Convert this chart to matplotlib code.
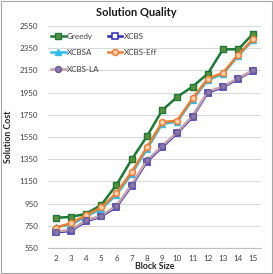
import matplotlib
matplotlib.use("Agg")
import matplotlib.pyplot as plt
from matplotlib.patches import Rectangle

plt.rcParams['font.family'] = ['Lato', 'DejaVu Sans']

block_sizes = [2, 3, 4, 5, 6, 7, 8, 9, 10, 11, 12, 13, 14, 15]
greedy   = [822, 830, 858, 938, 1118, 1348, 1555, 1790, 1912, 2004, 2120, 2340, 2340, 2482]
xcbs     = [690, 705, 790, 835, 920, 1110, 1328, 1458, 1585, 1730, 1950, 1998, 2075, 2148]
xcbsa    = [742, 758, 835, 902, 1030, 1218, 1440, 1668, 1688, 1885, 2062, 2118, 2280, 2428]
xcbs_eff = [732, 774, 846, 915, 1046, 1235, 1456, 1683, 1698, 1898, 2075, 2128, 2290, 2436]
xcbs_la  = [698, 713, 798, 842, 930, 1121, 1339, 1468, 1593, 1740, 1958, 2005, 2081, 2152]
yticks = [550, 750, 950, 1150, 1350, 1550, 1750, 1950, 2150, 2350, 2550]

fig = plt.figure(figsize=(2.73, 2.74), dpi=100)
ax = fig.add_axes([48/273, 1-248/274, 213/273, 222/274])

fig.patches.append(Rectangle((0.002, 0.002), 0.996, 0.996, transform=fig.transFigure,
                             fill=False, edgecolor="#A6A6A6", linewidth=0.8))

lw = 1.8
h_greedy, = ax.plot(block_sizes, greedy, color="#1C7A36", lw=lw, marker="s", ms=4.2,
        mfc="#5A8F3C", mec="#1C7A36", mew=1.0, label="Greedy", zorder=3)
h_xcbs, = ax.plot(block_sizes, xcbs, color="#2A2AC0", lw=lw, marker="s", ms=4,
        mfc="white", mec="#2A2AC0", mew=1.1, label="XCBS", zorder=3)
h_xcbsa, = ax.plot(block_sizes, xcbsa, color="#2EBDEB", lw=lw, marker="^", ms=4,
        mfc="#2EBDEB", mec="#2EBDEB", label="XCBSA", zorder=3)
h_eff, = ax.plot(block_sizes, xcbs_eff, color="#ED7D31", lw=lw, marker="o", ms=4.3,
        mfc="#FBD2B0", mec="#ED7D31", mew=1.1, label="XCBS-Eff", zorder=4)
h_la, = ax.plot(block_sizes, xcbs_la, color="#C8A0A8", lw=lw, marker="o", ms=4.3,
        mfc="#8A78AE", mec="#6A5A96", mew=1.0, label="XCBS-LA", zorder=5)

ax.set_xlim(1.5, 15.5)
ax.set_ylim(550, 2550)
ax.set_xticks(block_sizes)
ax.set_yticks(yticks)
ax.tick_params(axis="both", length=0, labelsize=5.8, colors="#404040")
ax.tick_params(axis="y", pad=7)
ax.tick_params(axis="x", pad=5)
ax.grid(axis="y", color="#D9D9D9", linewidth=0.8)
ax.set_axisbelow(True)
for s in ["top", "right", "left"]:
    ax.spines[s].set_visible(False)
ax.spines["bottom"].set_color("#BFBFBF")

fig.text(136/273, 1-12/274, "Solution Quality", fontsize=8, fontweight="bold",
         color="#1a1a1a", ha="center", va="center")
ax.set_xlabel("Block Size", fontsize=6.3, fontweight="bold", labelpad=0, color="#262626")
ax.set_ylabel("Solution Cost", fontsize=6.3, fontweight="bold", labelpad=5, color="#262626")

handles = [h_greedy, h_xcbsa, h_la, h_xcbs, h_eff]
leg = ax.legend(handles=handles, labels=[h.get_label() for h in handles],
                loc="upper left", ncol=2, fontsize=5.8, frameon=False,
                handlelength=1.8, handletextpad=0.2, columnspacing=1.0,
                labelspacing=1.15, borderpad=0, borderaxespad=0,
                bbox_to_anchor=(51/273, 1-33/274), bbox_transform=fig.transFigure)
for t in leg.get_texts():
    t.set_color("#404040")

fig.savefig("out.png", dpi=100)
